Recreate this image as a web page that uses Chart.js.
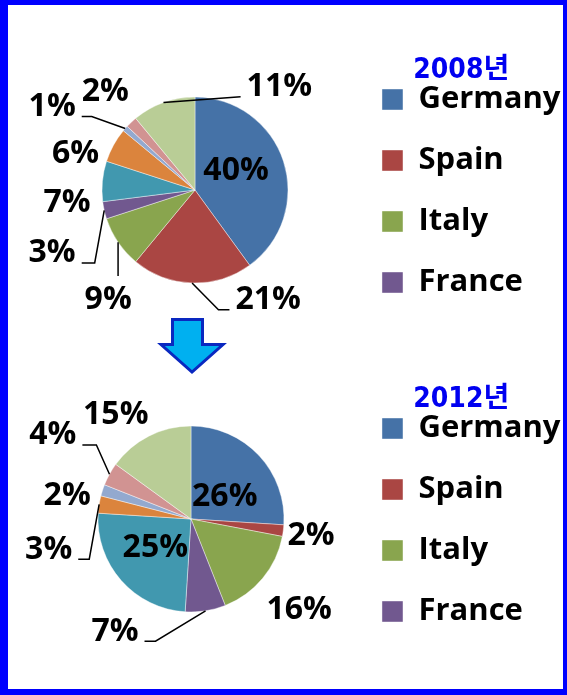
<!DOCTYPE html>
<html>
<head>
<meta charset="utf-8">
<script src="https://cdn.jsdelivr.net/npm/chart.js@4.4.1/dist/chart.umd.min.js"></script>
<style>
  html, body { margin: 0; padding: 0; background: #fff; }
  body { width: 567px; height: 695px; overflow: hidden; position: relative; }
  canvas { position: absolute; left: 0; }
  #c2008 { top: 0; }
  #c2012 { top: 329px; }
  #frame {
    position: absolute; left: 0; top: 0; width: 567px; height: 695px; box-sizing: border-box;
    border-style: solid; border-color: #0000ff;
    border-width: 5px 4px 6px 8px; pointer-events: none;
  }
  #arrow { position: absolute; left: 0; top: 0; }
</style>
</head>
<body>
<canvas id="c2008" width="600" height="350"></canvas>
<canvas id="c2012" width="600" height="350"></canvas>
<svg id="arrow" width="567" height="695">
  <polygon points="172.5,319.5 202.5,319.5 202.5,344.5 223,344.5 192,372 161,344.5 172.5,344.5"
           fill="#00b0f0" stroke="#0a28c0" stroke-width="3" stroke-linejoin="miter"/>
</svg>
<div id="frame"></div>
<script>
// data
const categories = ['Germany', 'Spain', 'Italy', 'France', 'Other 1', 'Other 2', 'Other 3', 'Other 4', 'Other 5'];
const values2008 = [40, 21, 9, 3, 7, 6, 1, 2, 11];
const values2012 = [26, 2, 16, 7, 25, 3, 2, 4, 15];
const legendShown = 4; // only the first four names are in the legend
const colors = ['#4572a7', '#aa4643', '#89a54e', '#71588f', '#4198af', '#db843d', '#93a9cf', '#d19392', '#b9cd96'];

// where each % label sits: d = distance in radii, rot = degrees off the slice middle
const place2008 = [
  {d: 0.50, rot: -10},
  {d: 1.40, rot: -36, lead: 'h', hl: 11},
  {d: 1.49, rot: -17, lead: 'v'},
  {d: 1.67, rot: -10.5, lead: 'h', hl: 13},
  {d: 1.38, rot: -10},
  {d: 1.35, rot: -11},
  {d: 1.79, rot: -10.5, lead: 'h', hl: 10},
  {d: 1.45, rot: 1.5},
  {d: 1.45, rot: 58.5, lead: 'h', hl: 0}
];
const place2012 = [
  {d: 0.45, rot: 7},
  {d: 1.30, rot: -0.5},
  {d: 1.50, rot: -0.4},
  {d: 1.44, rot: 43.6, lead: 'h', hl: 11},
  {d: 0.48, rot: 4.5},
  {d: 1.56, rot: -20.2, lead: 'h', hl: 11},
  {d: 1.36, rot: -6.2},
  {d: 1.75, rot: 3.1, lead: 'h', hl: 14},
  {d: 1.40, rot: -8.3}
];

const labelFont = "'Open Sans', 'DejaVu Sans', sans-serif";

const pctLabels = {
  id: 'pctLabels',
  afterDatasetsDraw(chart, args, opts) {
    const ctx = chart.ctx;
    const meta = chart.getDatasetMeta(0);
    const data = chart.data.datasets[0].data;
    const total = data.reduce((a, b) => a + b, 0);
    ctx.save();
    ctx.font = 'bold 32px ' + labelFont;
    ctx.fillStyle = '#000';
    ctx.strokeStyle = '#000';
    ctx.lineWidth = 1.5;
    ctx.textAlign = 'center';
    ctx.textBaseline = 'alphabetic';
    meta.data.forEach((arc, i) => {
      const p = opts.place[i];
      const {x, y, startAngle, endAngle, outerRadius} =
        arc.getProps(['x', 'y', 'startAngle', 'endAngle', 'outerRadius'], true);
      const mid = (startAngle + endAngle) / 2;
      const a = mid + p.rot * Math.PI / 180;
      const lx = x + Math.cos(a) * p.d * outerRadius;
      const ly = y + Math.sin(a) * p.d * outerRadius;
      const text = Math.round(data[i] / total * 100) + '%';
      const w = ctx.measureText(text).width;
      if (p.lead) {
        const ex = x + Math.cos(mid) * outerRadius;
        const ey = y + Math.sin(mid) * outerRadius;
        ctx.beginPath();
        ctx.moveTo(ex, ey);
        if (p.lead === 'v') {
          ctx.lineTo(ex, ly - 22);
        } else {
          const right = lx > ex;
          const xe = right ? lx - w / 2 - 6 : lx + w / 2 + 6;
          const xb = right ? xe - p.hl : xe + p.hl;
          ctx.lineTo(xb, ly + 12);
          ctx.lineTo(xe, ly + 12);
        }
        ctx.stroke();
      }
      ctx.fillText(text, lx, ly + 11.4);
    });
    ctx.restore();
  }
};

function makePie(id, title, values, place, padLeft) {
  return new Chart(document.getElementById(id), {
    type: 'pie',
    data: {
      labels: categories,
      datasets: [{
        data: values,
        backgroundColor: colors,
        borderColor: 'rgba(255,255,255,0.7)',
        borderWidth: 0.6
      }]
    },
    options: {
      responsive: false,
      animation: false,
      devicePixelRatio: 1,
      radius: 93,
      layout: { padding: { left: padLeft, right: 29.5, top: 40, bottom: 10 } },
      plugins: {
        tooltip: { enabled: false },
        pctLabels: { place: place },
        legend: {
          position: 'right',
          align: 'start',
          title: {
            display: true,
            text: title,
            color: '#0000f0',
            font: { family: "'Liberation Sans Narrow', 'DejaVu Sans Condensed', 'Noto Sans CJK KR', sans-serif", size: 28, weight: 'bold' },
            padding: { top: 17, bottom: -36.6 }
          },
          labels: {
            filter: (item) => item.index < legendShown,
            color: '#000',
            boxWidth: 21,
            boxHeight: 21,
            padding: 30,
            font: { family: labelFont, size: 31, weight: 'bold' }
          }
        }
      }
    },
    plugins: [pctLabels]
  });
}

makePie('c2008', '2008년', values2008, place2008, 38);
makePie('c2012', '2012년', values2012, place2012, 30);
</script>
</body>
</html>
